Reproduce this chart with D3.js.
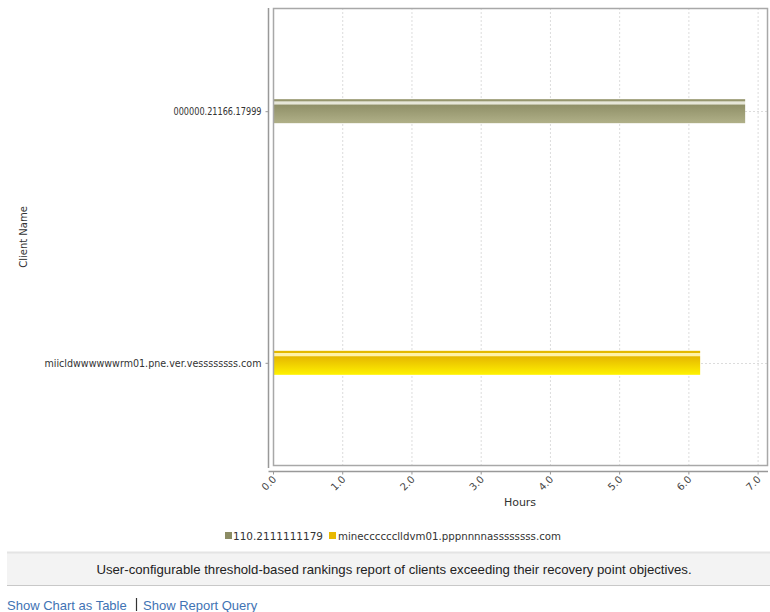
<!DOCTYPE html>
<html>
<head>
<meta charset="utf-8">
<script src="https://cdn.jsdelivr.net/npm/d3@7"></script>
<style>
  html, body { margin: 0; padding: 0; background: #fff; }
  svg { display: block; }
</style>
</head>
<body>
<svg id="chart" width="770" height="612"></svg>
<script>
// ---- data ----
const categories = ["000000.21166.17999", "miicldwwwwwwrm01.pne.ver.vessssssss.com"];
const seriesNames = ["110.2111111179", "minecccccclldvm01.pppnnnnassssssss.com"];
const seriesValues = [6.82, 6.17];   // hours, one bar per client
const xTicks = [0, 1, 2, 3, 4, 5, 6, 7];
const xDomainMax = 7.15;
const xTitle = "Hours";
const yTitle = "Client Name";
const caption = "User-configurable threshold-based rankings report of clients exceeding their recovery point objectives.";
const links = ["Show Chart as Table", "Show Report Query"];

// ---- layout ----
const svg = d3.select("#chart");
const plot = { left: 273, right: 768, top: 8, bottom: 466 };
const axisX = 268.5, axisY = 471.5;
const chartFont = "'DejaVu Sans', sans-serif";

const x = d3.scaleLinear().domain([0, xDomainMax]).range([plot.left, plot.right]);
const y = d3.scalePoint().domain(categories).range([plot.top, plot.bottom]).padding(0.41);
const barH = 24;

// gradients
const defs = svg.append("defs");
const grads = [
  { id: "g0", stops: [["0", "#96966e"], ["0.07", "#96966e"], ["0.11", "#e6e6d8"], ["0.2", "#e6e6d8"], ["0.25", "#909068"], ["1", "#b0b088"]] },
  { id: "g1", stops: [["0", "#e4b800"], ["0.07", "#e4b800"], ["0.11", "#fff2a8"], ["0.2", "#fff2a8"], ["0.25", "#e6b800"], ["1", "#fff200"]] }
];
grads.forEach(g => {
  const lg = defs.append("linearGradient").attr("id", g.id).attr("x1", 0).attr("x2", 0).attr("y1", 0).attr("y2", 1);
  g.stops.forEach(s => lg.append("stop").attr("offset", s[0]).attr("stop-color", s[1]));
});
const legendColors = ["#8c8c64", "#e8b800"];

// plot background and grid
svg.append("rect").attr("x", plot.left).attr("y", plot.top)
  .attr("width", plot.right - plot.left).attr("height", plot.bottom - plot.top)
  .attr("fill", "#fff");

svg.append("g").selectAll("line").data(xTicks.slice(1)).join("line")
  .attr("x1", d => x(d) + 0.5).attr("x2", d => x(d) + 0.5)
  .attr("y1", plot.top).attr("y2", plot.bottom)
  .attr("stroke", "#dcdcdc").attr("stroke-dasharray", "2,2");

svg.append("g").selectAll("line").data(categories).join("line")
  .attr("x1", plot.left).attr("x2", plot.right)
  .attr("y1", d => Math.round(y(d)) + 0.5).attr("y2", d => Math.round(y(d)) + 0.5)
  .attr("stroke", "#dcdcdc").attr("stroke-dasharray", "2,2");

// bars
svg.append("g").selectAll("rect").data(categories).join("rect")
  .attr("x", x(0))
  .attr("y", d => y(d) - barH / 2)
  .attr("width", (d, i) => x(seriesValues[i]) - x(0))
  .attr("height", barH)
  .attr("fill", (d, i) => `url(#g${i})`);

// plot border
svg.append("rect").attr("x", plot.left + 0.5).attr("y", plot.top + 0.5)
  .attr("width", plot.right - plot.left - 1).attr("height", plot.bottom - plot.top - 1)
  .attr("fill", "none").attr("stroke", "#a8a8a8").attr("stroke-width", 1.5);

// y axis
const yAxis = d3.axisLeft(y).tickSize(3).tickPadding(4);
const gy = svg.append("g").attr("transform", `translate(${axisX},0)`).call(yAxis);
gy.select(".domain").attr("d", `M0,${plot.top}V${plot.bottom + 2}`).attr("stroke", "#999").attr("stroke-width", 1.5);
gy.selectAll(".tick line").attr("stroke", "#999");
gy.selectAll(".tick text").attr("font-family", chartFont).attr("font-size", 11).attr("fill", "#333");
gy.selectAll(".tick text").attr("textLength", (d, i) => i === 0 ? 88 : 217).attr("lengthAdjust", "spacingAndGlyphs");

// x axis
const xAxis = d3.axisBottom(x).tickValues(xTicks).tickFormat(d3.format(".1f")).tickSize(3).tickPadding(3);
const gx = svg.append("g").attr("transform", `translate(0,${axisY})`).call(xAxis);
gx.select(".domain").attr("d", `M${axisX},0H${plot.right}`).attr("stroke", "#999").attr("stroke-width", 1.5);
gx.selectAll(".tick line").attr("stroke", "#999");
gx.selectAll(".tick text")
  .attr("font-family", chartFont).attr("font-size", 10).attr("fill", "#444")
  .attr("text-anchor", "end").attr("x", 0).attr("y", 0).attr("dy", "0.35em")
  .attr("transform", "translate(1,6) rotate(-45)");

// axis titles
svg.append("text").attr("x", (plot.left + plot.right) / 2 - 0.5).attr("y", 506)
  .attr("text-anchor", "middle").attr("font-family", chartFont).attr("font-size", 11).attr("fill", "#333")
  .text(xTitle);
svg.append("text").attr("transform", `translate(27,${(plot.top + plot.bottom) / 2}) rotate(-90)`)
  .attr("text-anchor", "middle").attr("font-family", chartFont).attr("font-size", 10).attr("fill", "#333")
  .text(yTitle);

// legend
const legendItems = [
  { sx: 225, tx: 233, w: 90 },
  { sx: 329, tx: 338, w: 223 }
];
const lg = svg.append("g");
seriesNames.forEach((name, i) => {
  lg.append("rect").attr("x", legendItems[i].sx).attr("y", 532).attr("width", 7).attr("height", 7)
    .attr("fill", legendColors[i]);
  lg.append("text").attr("x", legendItems[i].tx).attr("y", 539.5)
    .attr("font-family", chartFont).attr("font-size", 11).attr("fill", "#333")
    .attr("textLength", legendItems[i].w).attr("lengthAdjust", "spacingAndGlyphs")
    .text(name);
});

// caption box
svg.append("rect").attr("x", 7).attr("y", 552).attr("width", 763).attr("height", 33).attr("fill", "#f3f3f3");
svg.append("line").attr("x1", 7).attr("x2", 770).attr("y1", 552.5).attr("y2", 552.5).attr("stroke", "#e4e4e4").attr("stroke-width", 2);
svg.append("line").attr("x1", 7).attr("x2", 770).attr("y1", 585.5).attr("y2", 585.5).attr("stroke", "#c8c8c8");
svg.append("text").attr("x", 394).attr("y", 573.5).attr("text-anchor", "middle")
  .attr("font-family", "'Liberation Sans', Arial, sans-serif").attr("font-size", 13.2).attr("fill", "#222")
  .text(caption);

// links
svg.append("text").attr("x", 7).attr("y", 610)
  .attr("font-family", "'Liberation Sans', Arial, sans-serif").attr("font-size", 13).attr("fill", "#4173b4")
  .text(links[0]);
svg.append("line").attr("x1", 136.5).attr("x2", 136.5).attr("y1", 598).attr("y2", 611).attr("stroke", "#333").attr("stroke-width", 1.2);
svg.append("text").attr("x", 143).attr("y", 610)
  .attr("font-family", "'Liberation Sans', Arial, sans-serif").attr("font-size", 13).attr("fill", "#4173b4")
  .text(links[1]);
</script>
</body>
</html>
